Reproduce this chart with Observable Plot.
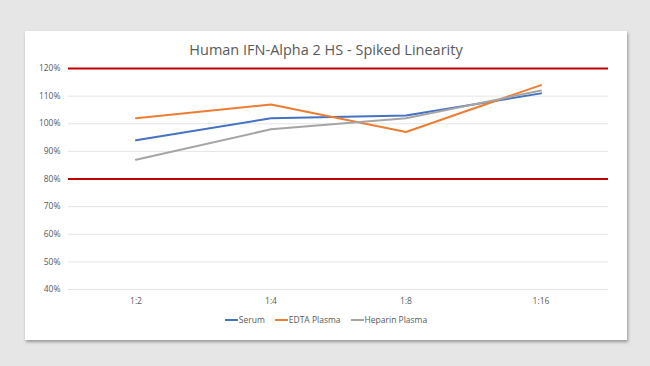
<!DOCTYPE html>
<html>
<head>
<meta charset="utf-8">
<script src="https://cdn.jsdelivr.net/npm/d3@7"></script>
<script src="https://cdn.jsdelivr.net/npm/@observablehq/plot@0.6"></script>
<style>
  html, body { margin: 0; padding: 0; }
  body { width: 650px; height: 366px; background: #e6e6e6; position: relative; overflow: hidden; font-family: "Open Sans", "Liberation Sans", sans-serif; }
  #card { position: absolute; left: 25px; top: 31px; width: 602px; height: 309px; background: #fff; box-shadow: 1px 2px 3px rgba(0,0,0,0.35); }
  #title { position: absolute; left: 0; width: 602px; top: 9px; text-align: center; font-size: 14.5px; color: #595959; }
  #chart { position: absolute; left: 0; top: 29px; }
  #legend { position: absolute; left: 0; width: 602px; top: 283px; display: flex; justify-content: center; gap: 10px; font-size: 8.5px; color: #595959; }
  .item { display: flex; align-items: center; }
  .sw { display: inline-block; width: 13px; height: 2px; margin-right: 1px; }
</style>
</head>
<body>
<div id="card">
  <div id="title"></div>
  <div id="chart"></div>
  <div id="legend"></div>
</div>
<script>
const titleText = "Human IFN-Alpha 2 HS - Spiked Linearity";
const categories = ["1:2", "1:4", "1:8", "1:16"];
const seriesNames = ["Serum", "EDTA Plasma", "Heparin Plasma"];
const serum = [94, 102, 103, 111];
const edta = [102, 107, 97, 114];
const heparin = [87, 98, 102, 112];
const limits = [80, 120];
const yTicks = [40, 50, 60, 70, 80, 90, 100, 110, 120];
const colors = ["#4472C4", "#ED7D31", "#A5A5A5"];

const seriesValues = [serum, edta, heparin];
const data = [];
seriesNames.forEach((s, i) => categories.forEach((c, j) => data.push({series: s, cat: c, value: seriesValues[i][j]})));

document.getElementById("title").textContent = titleText;

const chart = Plot.plot({
  width: 602,
  height: 250,
  marginTop: 8,
  marginBottom: 21,
  marginLeft: 43,
  marginRight: 19,
  style: {fontFamily: "'Open Sans', 'Liberation Sans', sans-serif", fontSize: "8.5px", color: "#595959", background: "transparent"},
  x: {domain: categories, type: "band", padding: 0, label: null, tickSize: 0, tickPadding: 8},
  y: {domain: [40, 120], ticks: yTicks, tickFormat: d => d + "%", label: null, tickSize: 0, tickPadding: 8},
  color: {domain: seriesNames, range: colors},
  marks: [
    Plot.ruleY(yTicks, {stroke: "#dedede", strokeWidth: 0.8}),
    Plot.ruleY(limits, {stroke: "#C00000", strokeWidth: 2.2}),
    Plot.line(data, {x: "cat", y: "value", z: "series", stroke: "series", strokeWidth: 2}),
    Plot.axisX({tickSize: 0, tickPadding: 8, fill: "#595959"}),
    Plot.axisY({ticks: yTicks, tickFormat: d => d + "%", tickSize: 0, tickPadding: 8, fill: "#595959"})
  ]
});
document.getElementById("chart").appendChild(chart);

const legend = document.getElementById("legend");
seriesNames.forEach((s, i) => {
  const it = document.createElement("div");
  it.className = "item";
  const sw = document.createElement("span");
  sw.className = "sw";
  sw.style.background = colors[i];
  it.appendChild(sw);
  const t = document.createElement("span");
  t.textContent = s;
  it.appendChild(t);
  legend.appendChild(it);
});
</script>
</body>
</html>
